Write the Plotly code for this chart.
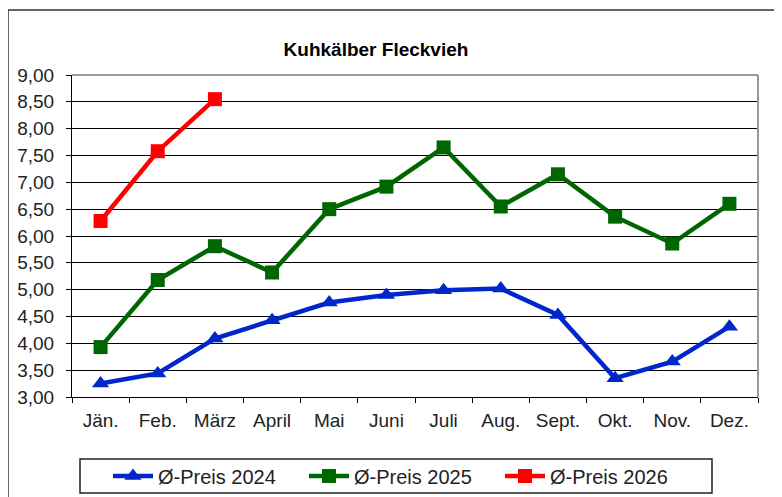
import plotly.graph_objects as go

months = ['Jän.', 'Feb.', 'März', 'April', 'Mai', 'Juni', 'Juli', 'Aug.', 'Sept.', 'Okt.', 'Nov.', 'Dez.']
preis_2024 = [3.25, 3.44, 4.09, 4.43, 4.76, 4.90, 4.99, 5.02, 4.53, 3.35, 3.66, 4.31]
preis_2025 = [3.93, 5.18, 5.81, 5.32, 6.50, 6.92, 7.65, 6.55, 7.15, 6.36, 5.86, 6.60]
preis_2026 = [6.28, 7.58, 8.55]

# the page body adds an 8px margin, so work in screen pixels minus that offset
OFF = 8
W, H = 782, 497
L, T = 72 - OFF, 75 - OFF
R, B = W - (758 - OFF), H - (397 - OFF)

fig = go.Figure()

fig.add_trace(go.Scatter(
    x=months, y=preis_2024, name='Ø-Preis 2024', mode='lines+markers',
    line=dict(color='#0026CC', width=4.5),
    marker=dict(symbol='triangle-up', size=15, color='#0026CC'),
))
fig.add_trace(go.Scatter(
    x=months, y=preis_2025, name='Ø-Preis 2025', mode='lines+markers',
    line=dict(color='#006600', width=4.5),
    marker=dict(symbol='square', size=14, color='#006600'),
))
fig.add_trace(go.Scatter(
    x=months[:len(preis_2026)], y=preis_2026, name='Ø-Preis 2026', mode='lines+markers',
    line=dict(color='#FF0000', width=4.5),
    marker=dict(symbol='square', size=14, color='#FF0000'),
))

pw, ph = W - L - R, H - T - B


def px(x):
    return (x - OFF - L) / pw


def py(y):
    return (H - B - (y - OFF)) / ph


fig.update_layout(
    width=W, height=H,
    margin=dict(l=L, r=R, t=T, b=B, autoexpand=False),
    paper_bgcolor='white', plot_bgcolor='white',
    separators=',.',
    font=dict(family='Liberation Sans, Arial, sans-serif', size=19, color='#222222'),
    title=dict(text='<b>Kuhkälber Fleckvieh</b>', x=(376 - OFF) / W, xanchor='center',
               y=1 - (49 - OFF) / H, yanchor='middle', font=dict(size=19, color='black')),
    showlegend=True,
    legend=dict(orientation='h', xref='container', yref='container',
                x=(108 - OFF) / W, xanchor='left', y=1 - (476 - OFF) / H, yanchor='middle',
                borderwidth=0, bgcolor='rgba(0,0,0,0)',
                entrywidth=141, itemwidth=40, font=dict(size=20)),
    shapes=[
        # outer chart frame
        dict(type='rect', xref='paper', yref='paper', x0=px(8), x1=px(900), y0=py(600), y1=py(10),
             line=dict(color='#333333', width=1.5), layer='below'),
        # legend frame
        dict(type='rect', xref='paper', yref='paper', x0=px(80), x1=px(712), y0=py(493), y1=py(459),
             line=dict(color='#222222', width=1.5), layer='below'),
        # grey plot border top / right
        dict(type='line', xref='paper', yref='paper', x0=0, x1=1, y0=1, y1=1,
             line=dict(color='#999999', width=2), layer='above'),
        dict(type='line', xref='paper', yref='paper', x0=1, x1=1, y0=0, y1=1,
             line=dict(color='#999999', width=2), layer='above'),
    ],
)

fig.update_xaxes(
    type='category', range=[-0.5, len(months) - 0.5], showgrid=False,
    showline=True, linecolor='black', linewidth=1,
    ticks='outside', tickson='boundaries', ticklen=5, tickcolor='black',
    tickfont=dict(size=19), automargin=False, ticklabelstandoff=6,
)
fig.update_yaxes(
    range=[3, 9], dtick=0.5, tickformat='.2f', showgrid=True, gridcolor='black', gridwidth=1,
    showline=True, linecolor='black', linewidth=1, ticks='outside', ticklen=5,
    tickcolor='black', tickfont=dict(size=19), zeroline=False, automargin=False,
    ticklabelstandoff=8,
)

fig.write_html("out.html")
